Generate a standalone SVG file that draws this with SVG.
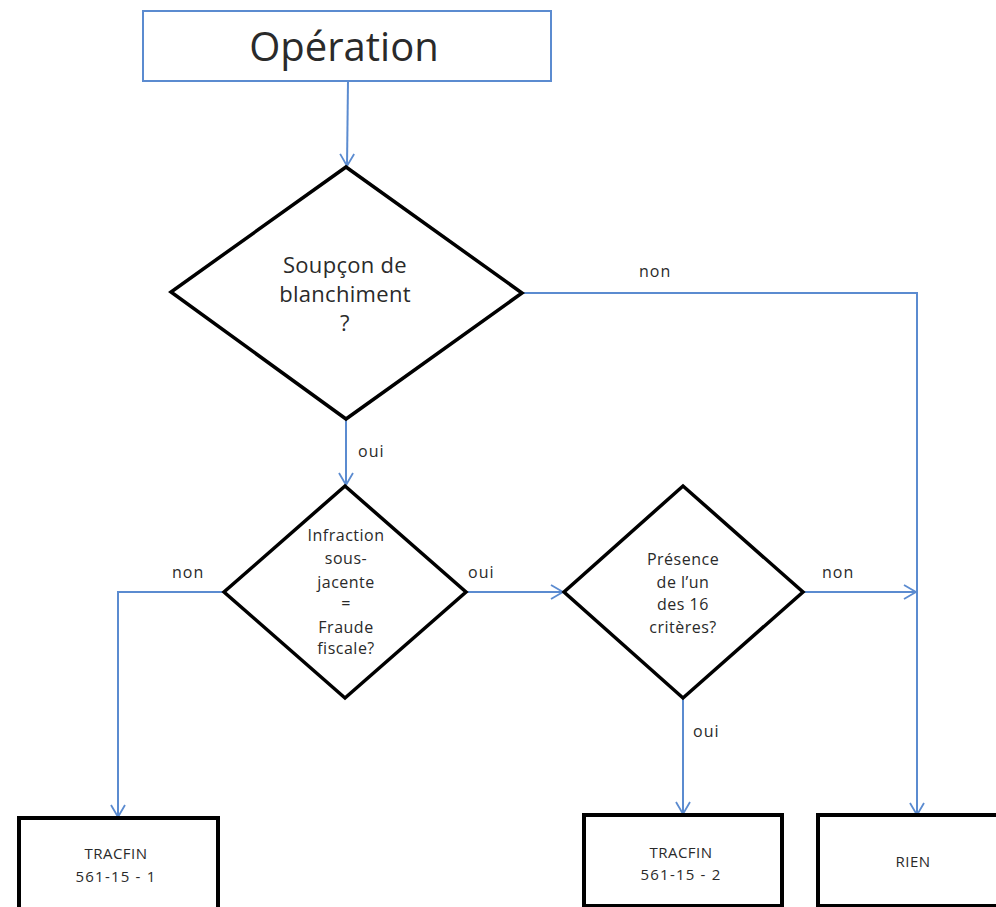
<svg xmlns="http://www.w3.org/2000/svg" width="996" height="907" viewBox="0 0 996 907">
<defs>
<marker id="arr" markerWidth="16" markerHeight="16" refX="13" refY="8" orient="auto" markerUnits="userSpaceOnUse">
<path d="M1,1 L13,8 L1,15" fill="none" stroke="#5b8bd0" stroke-width="1.8"/>
</marker>
<style>
.blue{fill:none;stroke:#5b8bd0;stroke-width:2}
.dia{fill:#fff;stroke:#000;stroke-width:3.5;stroke-linejoin:miter}
.box{fill:#fff;stroke:#000;stroke-width:4}
.t{font-family:"Open Sans","Liberation Sans",sans-serif;fill:#2a2a2a;text-anchor:middle}
.s{font-size:16px;letter-spacing:0.5px}
.m{font-size:22px;letter-spacing:0.3px}
.b{font-size:15px}
.l{font-size:16px;letter-spacing:1px;font-family:"Open Sans","Liberation Sans",sans-serif;fill:#2a2a2a}
</style>
</defs>
<rect width="996" height="907" fill="#fff"/>
<g id="connectors">
<line class="blue" x1="348" y1="81" x2="347" y2="166" marker-end="url(#arr)"/>
<polyline class="blue" points="522,293 917,293 917,815" marker-end="url(#arr)"/>
<line class="blue" x1="346" y1="419" x2="346" y2="485" marker-end="url(#arr)"/>
<polyline class="blue" points="224,592 118,592 118,817" marker-end="url(#arr)"/>
<line class="blue" x1="466" y1="592" x2="563" y2="592" marker-end="url(#arr)"/>
<line class="blue" x1="803" y1="592" x2="916" y2="592" marker-end="url(#arr)"/>
<line class="blue" x1="683" y1="698" x2="683" y2="814" marker-end="url(#arr)"/>
<text class="l" x="639" y="277">non</text>
<text class="l" x="358" y="457">oui</text>
<text class="l" x="172" y="578">non</text>
<text class="l" x="468" y="578">oui</text>
<text class="l" x="822" y="578">non</text>
<text class="l" x="693" y="737">oui</text>
</g>
<g id="operation">
<rect x="143" y="11" width="408" height="70" fill="#fff" stroke="#5b8bd0" stroke-width="2"/>
<text class="t" x="344" y="61" font-size="40">Opération</text>
</g>
<g id="soupcon">
<polygon class="dia" points="346,167 522,293 346,419 171,292"/>
<text class="t m" x="345" y="273">Soupçon de</text>
<text class="t m" x="345" y="302">blanchiment</text>
<text class="t m" x="345" y="331">?</text>
</g>
<g id="infraction">
<polygon class="dia" points="345,486 466,592 345,698 224,592"/>
<text class="t s" x="346" y="541">Infraction</text>
<text class="t s" x="346" y="564">sous-</text>
<text class="t s" x="346" y="588">jacente</text>
<text class="t s" x="346" y="609">=</text>
<text class="t s" x="346" y="633">Fraude</text>
<text class="t s" x="346" y="654">fiscale?</text>
</g>
<g id="presence">
<polygon class="dia" points="683,486 803,592 683,698 564,592"/>
<text class="t s" x="683" y="565">Présence</text>
<text class="t s" x="683" y="588">de l’un</text>
<text class="t s" x="683" y="610">des 16</text>
<text class="t s" x="683" y="633">critères?</text>
</g>
<g id="tracfin1">
<rect class="box" x="19" y="818" width="199" height="100"/>
<text class="t b" x="116" y="859" letter-spacing="0.5">TRACFIN</text>
<text class="t b" x="116" y="882" letter-spacing="1.2">561-15 - 1</text>
</g>
<g id="tracfin2">
<rect class="box" x="584" y="815" width="198" height="91"/>
<text class="t b" x="681" y="858" letter-spacing="0.5">TRACFIN</text>
<text class="t b" x="681" y="880" letter-spacing="1.2">561-15 - 2</text>
</g>
<g id="rien">
<rect class="box" x="818" y="815" width="190" height="91"/>
<text class="t b" x="913" y="867" letter-spacing="0.5">RIEN</text>
</g>
</svg>
